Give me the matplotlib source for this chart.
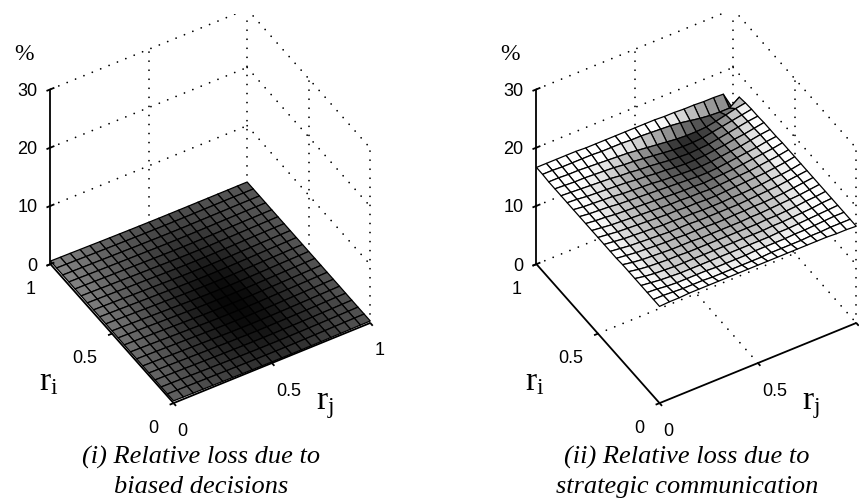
import numpy as np
from matplotlib import pyplot as plt
from matplotlib.transforms import IdentityTransform
from mpl_toolkits.mplot3d import proj3d

# grid of the two surfaces, 21 nodes per side
r_values = [0.0, 0.05, 0.1, 0.15, 0.2, 0.25, 0.3, 0.35, 0.4, 0.45, 0.5,
            0.55, 0.6, 0.65, 0.7, 0.75, 0.8, 0.85, 0.9, 0.95, 1.0]

# relative loss in %, rows r_i = 0..1, columns r_j = 0..1
loss_biased = [
    [.38, .36, .34, .32, .30, .28, .26, .24, .22, .21, .20, .20, .20, .21, .22, .24, .26, .28, .30, .32, .34],
    [.38, .36, .33, .30, .28, .26, .23, .21, .19, .17, .16, .16, .16, .17, .19, .21, .23, .26, .29, .31, .34],
    [.39, .36, .33, .30, .27, .24, .21, .18, .16, .14, .13, .13, .13, .14, .16, .18, .21, .24, .27, .30, .33],
    [.40, .37, .33, .30, .26, .23, .19, .16, .14, .12, .10, .10, .10, .12, .14, .16, .19, .23, .26, .30, .33],
    [.41, .37, .34, .30, .26, .22, .18, .15, .12, .10, .08, .07, .08, .10, .12, .15, .18, .22, .26, .30, .33],
    [.42, .38, .34, .30, .26, .22, .18, .14, .11, .08, .06, .05, .06, .08, .11, .14, .18, .22, .26, .30, .34],
    [.43, .39, .35, .31, .27, .22, .18, .14, .10, .07, .05, .04, .05, .07, .10, .14, .18, .22, .26, .30, .34],
    [.44, .40, .36, .32, .27, .22, .18, .14, .10, .06, .04, .03, .04, .06, .10, .14, .18, .22, .26, .30, .34],
    [.45, .41, .37, .33, .28, .23, .18, .14, .10, .06, .04, .03, .03, .06, .10, .14, .18, .22, .26, .30, .34],
    [.46, .42, .38, .34, .29, .24, .19, .15, .10, .07, .04, .03, .04, .06, .10, .14, .18, .22, .26, .30, .34],
    [.47, .43, .39, .35, .30, .25, .20, .16, .11, .08, .05, .04, .05, .07, .11, .15, .19, .23, .27, .30, .34],
    [.48, .44, .40, .36, .31, .26, .22, .17, .13, .10, .07, .05, .06, .08, .12, .16, .20, .24, .27, .31, .34],
    [.49, .45, .41, .37, .33, .28, .24, .19, .15, .12, .09, .07, .08, .10, .14, .17, .21, .25, .28, .31, .34],
    [.50, .46, .42, .38, .34, .30, .26, .22, .18, .14, .12, .10, .10, .12, .15, .19, .22, .26, .29, .32, .34],
    [.50, .47, .43, .39, .35, .32, .28, .24, .20, .17, .14, .13, .13, .15, .17, .20, .24, .27, .30, .32, .34],
    [.51, .48, .44, .40, .37, .33, .30, .26, .23, .20, .17, .16, .16, .17, .20, .22, .25, .28, .30, .32, .34],
    [.51, .48, .45, .41, .38, .35, .32, .28, .25, .23, .20, .19, .19, .20, .22, .24, .27, .29, .31, .33, .34],
    [.52, .49, .45, .42, .39, .36, .33, .30, .28, .25, .23, .22, .22, .23, .24, .26, .28, .30, .32, .33, .34],
    [.52, .49, .46, .43, .40, .37, .35, .32, .30, .28, .26, .25, .25, .26, .27, .28, .29, .31, .32, .33, .34],
    [.53, .50, .47, .44, .41, .39, .36, .34, .32, .30, .29, .28, .28, .28, .29, .30, .31, .32, .33, .33, .34],
    [.53, .50, .48, .45, .43, .40, .38, .36, .34, .33, .32, .31, .31, .31, .31, .32, .32, .33, .33, .34, .34],
]

loss_strategic = [
    [16.6, 16.7, 16.7, 16.8, 16.8, 16.8, 16.8, 16.8, 16.8, 16.8, 16.8, 16.8, 16.8, 16.8, 16.8, 16.8, 16.8, 16.8, 16.7, 16.7, 16.6],
    [16.6, 16.6, 16.5, 16.4, 16.4, 16.4, 16.3, 16.3, 16.3, 16.3, 16.3, 16.3, 16.4, 16.4, 16.4, 16.4, 16.5, 16.5, 16.6, 16.6, 16.6],
    [16.6, 16.5, 16.3, 16.2, 16.2, 16.2, 16.2, 16.1, 16.1, 16.1, 16.1, 16.2, 16.2, 16.2, 16.2, 16.3, 16.3, 16.4, 16.5, 16.6, 16.6],
    [16.6, 16.4, 16.2, 16.1, 16.0, 16.0, 16.0, 16.0, 16.0, 16.0, 16.0, 16.0, 16.0, 16.0, 16.1, 16.1, 16.2, 16.3, 16.4, 16.5, 16.6],
    [16.6, 16.3, 16.1, 16.0, 15.9, 15.9, 15.9, 15.9, 15.9, 15.9, 15.9, 15.9, 15.9, 15.9, 16.0, 16.0, 16.1, 16.2, 16.3, 16.5, 16.6],
    [16.6, 16.3, 16.1, 16.0, 15.9, 15.9, 15.8, 15.8, 15.8, 15.8, 15.8, 15.8, 15.8, 15.8, 15.9, 15.9, 16.0, 16.1, 16.3, 16.4, 16.6],
    [16.6, 16.3, 16.1, 16.0, 15.9, 15.8, 15.8, 15.8, 15.7, 15.7, 15.7, 15.7, 15.7, 15.8, 15.8, 15.9, 16.0, 16.1, 16.2, 16.4, 16.6],
    [16.5, 16.3, 16.1, 16.0, 15.9, 15.8, 15.8, 15.7, 15.7, 15.7, 15.6, 15.6, 15.7, 15.7, 15.8, 15.8, 15.9, 16.0, 16.2, 16.4, 16.6],
    [16.5, 16.3, 16.1, 16.0, 15.9, 15.8, 15.7, 15.7, 15.7, 15.6, 15.6, 15.6, 15.6, 15.6, 15.7, 15.8, 15.9, 16.0, 16.2, 16.4, 16.6],
    [16.5, 16.3, 16.1, 16.0, 15.9, 15.8, 15.7, 15.7, 15.6, 15.6, 15.5, 15.5, 15.5, 15.6, 15.6, 15.7, 15.8, 16.0, 16.1, 16.3, 16.6],
    [16.5, 16.3, 16.1, 16.0, 15.9, 15.8, 15.7, 15.6, 15.6, 15.5, 15.5, 15.4, 15.4, 15.5, 15.6, 15.7, 15.8, 15.9, 16.1, 16.3, 16.6],
    [16.5, 16.3, 16.1, 16.0, 15.9, 15.8, 15.7, 15.6, 15.5, 15.5, 15.4, 15.4, 15.3, 15.4, 15.5, 15.6, 15.7, 15.9, 16.1, 16.3, 16.6],
    [16.5, 16.3, 16.2, 16.0, 15.9, 15.8, 15.7, 15.6, 15.5, 15.4, 15.3, 15.3, 15.2, 15.3, 15.4, 15.5, 15.7, 15.9, 16.1, 16.3, 16.6],
    [16.5, 16.3, 16.2, 16.1, 15.9, 15.8, 15.7, 15.6, 15.5, 15.4, 15.3, 15.2, 15.1, 15.1, 15.2, 15.4, 15.6, 15.8, 16.0, 16.3, 16.5],
    [16.5, 16.3, 16.2, 16.1, 16.0, 15.8, 15.7, 15.6, 15.5, 15.3, 15.2, 15.1, 15.0, 15.0, 15.1, 15.3, 15.5, 15.7, 16.0, 16.3, 16.5],
    [16.5, 16.4, 16.2, 16.1, 16.0, 15.9, 15.8, 15.6, 15.5, 15.3, 15.2, 15.0, 14.9, 14.9, 15.0, 15.2, 15.4, 15.7, 15.9, 16.2, 16.5],
    [16.5, 16.4, 16.3, 16.2, 16.1, 16.0, 15.8, 15.7, 15.5, 15.4, 15.2, 15.0, 14.9, 14.8, 14.9, 15.0, 15.3, 15.6, 15.9, 16.2, 16.4],
    [16.5, 16.4, 16.3, 16.3, 16.2, 16.1, 16.0, 15.8, 15.7, 15.5, 15.3, 15.1, 14.9, 14.8, 14.8, 14.9, 15.2, 15.5, 15.8, 16.1, 16.4],
    [16.5, 16.5, 16.4, 16.4, 16.3, 16.2, 16.1, 16.0, 15.9, 15.7, 15.5, 15.3, 15.1, 14.9, 14.8, 14.8, 14.9, 15.2, 15.6, 16.0, 16.3],
    [16.6, 16.6, 16.5, 16.5, 16.5, 16.5, 16.4, 16.4, 16.4, 16.3, 16.3, 16.2, 16.1, 16.0, 15.8, 15.5, 15.2, 15.0, 14.9, 14.9, 16.1],
    [16.6, 16.6, 16.6, 16.6, 16.6, 16.5, 16.5, 16.5, 16.5, 16.5, 16.5, 16.5, 16.5, 16.4, 16.4, 16.3, 16.3, 16.2, 16.2, 16.1, 12.9],
]

r_ticks = [0, 0.5, 1]
r_tick_labels = ['0', '0.5', '1']
z_ticks = [0, 10, 20, 30]
captions = [['(i) Relative loss due to', 'biased decisions'],
            ['(ii) Relative loss due to', 'strategic communication']]

plt.rcParams['mathtext.fontset'] = 'custom'
plt.rcParams['mathtext.rm'] = 'Liberation Serif'

W, H = 859, 500
fig = plt.figure(figsize=(W / 100, H / 100), dpi=100)

dots = dict(color='black', linewidth=1.3, linestyle=(0, (0.01, 5)), dash_capstyle='round', zorder=1)
solid = dict(color='black', linewidth=1.3, solid_capstyle='butt', zorder=5)
tick_font = dict(family='Liberation Sans', fontsize=13, color='black', va='center',
                 transform=IdentityTransform())


def label_at(ax, x, y, z, s, dx, dy, ha):
    # tick label placed some pixels away from its projected data point
    px, py, _ = proj3d.proj_transform(x, y, z, ax.get_proj())
    px, py = ax.transData.transform((px, py))
    if px + dx < W:
        fig.text(px + dx, py + dy, s, ha=ha, **tick_font)


def draw_panel(left, loss, lo, hi):
    S = 396
    ax = fig.add_axes([left / W, 90.5 / H, S / W, S / H], projection='3d', computed_zorder=False)
    ax.set_proj_type('ortho')
    ax.view_init(elev=42.7, azim=239)
    ax.set_box_aspect((0.96, 1, 0.995))
    ax.set_xlim(0, 1, view_margin=0)
    ax.set_ylim(0, 1, view_margin=0)
    ax.set_zlim(0, 30, view_margin=0)
    ax.set_axis_off()

    # dotted box grid behind the surface
    for z in z_ticks:
        ax.plot([0, 1], [1, 1], [z, z], **dots)
        ax.plot([1, 1], [1, 0], [z, z], **dots)
    for r in r_ticks[1:]:
        ax.plot([r, r], [1, 1], [0, 30], **dots)
        ax.plot([1, 1], [1 - r, 1 - r], [0, 30], **dots)
    ax.plot([0.5, 0.5], [0, 1], [0, 0], **dots)
    ax.plot([0, 1], [0.5, 0.5], [0, 0], **dots)

    # surface is coloured by height through a gray scale
    X, Y = np.meshgrid(r_values, r_values)
    Z = np.array(loss)
    cell = (Z[:-1, :-1] + Z[1:, :-1] + Z[:-1, 1:] + Z[1:, 1:]) / 4
    colors = plt.cm.gray(np.clip((cell - lo) / (hi - lo), 0, 1))
    ax.plot_surface(X, Y, Z, rstride=1, cstride=1, facecolors=colors, shade=False,
                    edgecolor='black', linewidth=0.9, antialiased=True, zorder=3)

    # solid axes and ticks
    ax.plot([0, 0], [1, 1], [0, 30], **solid)
    ax.plot([0, 0], [0, 1], [0, 0], **solid)
    ax.plot([0, 1], [0, 0], [0, 0], **solid)
    for z in z_ticks:
        ax.plot([-0.02, 0.02], [1, 1], [z, z], **solid)
    for r in r_ticks:
        ax.plot([r, r], [-0.02, 0], [0, 0], **solid)
        ax.plot([-0.02, 0], [r, r], [0, 0], **solid)
    return ax


def fig_text(x, y, s, **kw):
    fig.text(x / W, 1 - y / H, s, ha='center', va='center', **kw)


ax_biased = draw_panel(7, loss_biased, 0, 1)
ax_strategic = draw_panel(493, loss_strategic, 14.5, 16.3)

# projection is only known after a first draw
fig.canvas.draw()
for ax in [ax_biased, ax_strategic]:
    for z in z_ticks:
        label_at(ax, 0, 1, z, str(z), -13, -2, 'right')
    for r, s in zip(r_ticks, r_tick_labels):
        label_at(ax, r, 0, 0, s, 4, -28, 'left')
        label_at(ax, 0, r, 0, s, -15, -25, 'right')

for off, cap, cx in zip([0, 486], captions, [201, 687]):
    fig_text(24 + off, 55, '%', family='Liberation Serif', fontsize=17)
    fig_text(49 + off, 381, r'$\mathrm{r_i}$', fontsize=24)
    fig_text(325 + off, 404, r'$\mathrm{r_j}$', fontsize=24)
    fig_text(cx, 457, cap[0], family='Liberation Serif', style='italic', fontsize=19)
    fig_text(cx, 487, cap[1], family='Liberation Serif', style='italic', fontsize=19)

plt.savefig('out.png', dpi=100)
